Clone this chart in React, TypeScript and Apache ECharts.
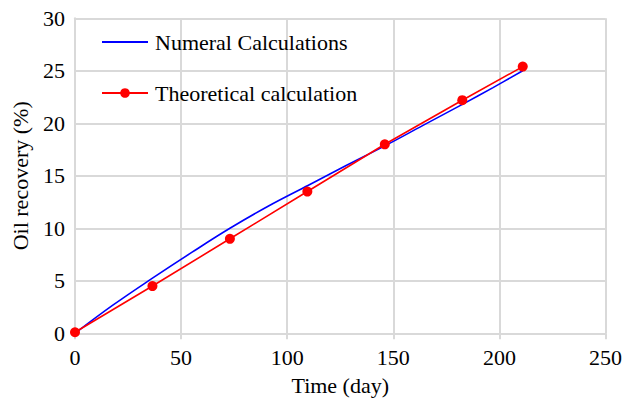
import React, { useEffect, useRef } from "react";
import * as echarts from "echarts";

const numX = [0, 18, 36.5, 55, 73, 91, 110, 128, 146, 164, 183, 197, 211];
const numY = [0, 2.7, 5.25, 7.7, 10.0, 12.1, 14.1, 16.0, 17.85, 19.8, 21.85, 23.4, 25.0];

const theoX = [0, 36.5, 73, 109.5, 146, 182.5, 211];
const theoY = [0.1, 4.5, 9.0, 13.5, 18.0, 22.2, 25.4];

const xTicks = [0, 250, 50];
const yTicks = [0, 30, 5];

const FONT = "Liberation Serif";
const FS = 22;

export default function App() {
  const ref = useRef<HTMLDivElement>(null);
  useEffect(() => {
    if (!ref.current) return;
    const chart = echarts.init(ref.current, null, { renderer: "svg" });
    const gridColor = "#d9d9d9";
    chart.setOption({
      animation: false,
      textStyle: { fontFamily: FONT, color: "#000" },
      grid: { left: 75, right: 17.5, top: 18.3, bottom: 69.7 },
      legend: {
        orient: "vertical",
        left: 96,
        top: 26,
        itemGap: 29,
        itemWidth: 46,
        itemHeight: 12,
        textStyle: { fontFamily: FONT, fontSize: FS, color: "#000", padding: [0, 0, 0, 2] },
        data: [
          { name: "Numeral Calculations", itemStyle: { opacity: 0 } },
          { name: "Theoretical calculation" },
        ],
      },
      xAxis: {
        type: "value",
        min: xTicks[0],
        max: xTicks[1],
        interval: xTicks[2],
        name: "Time (day)",
        nameLocation: "middle",
        nameGap: 41,
        nameTextStyle: { fontFamily: FONT, fontSize: FS, color: "#000" },
        axisLine: { show: true, lineStyle: { color: gridColor, width: 2 } },
        axisTick: { show: true, length: 6, lineStyle: { color: gridColor, width: 2 } },
        axisLabel: { fontFamily: FONT, fontSize: FS, color: "#000", margin: 13 },
        splitLine: { show: true, lineStyle: { color: gridColor, width: 2 } },
      },
      yAxis: {
        type: "value",
        min: yTicks[0],
        max: yTicks[1],
        interval: yTicks[2],
        name: "Oil recovery (%)",
        nameLocation: "middle",
        nameGap: 44,
        nameTextStyle: { fontFamily: FONT, fontSize: FS, color: "#000" },
        axisLine: { show: true, lineStyle: { color: gridColor, width: 2 } },
        axisTick: { show: false },
        axisLabel: { fontFamily: FONT, fontSize: FS, color: "#000", margin: 10 },
        splitLine: { show: true, lineStyle: { color: gridColor, width: 2 } },
      },
      series: [
        {
          name: "Numeral Calculations",
          type: "line",
          smooth: 0.4,
          showSymbol: false,
          symbol: "none",
          lineStyle: { color: "#0000ff", width: 1.6 },
          itemStyle: { color: "#0000ff" },
          data: numX.map((x, i) => [x, numY[i]]),
          z: 3,
        },
        {
          name: "Theoretical calculation",
          type: "line",
          symbol: "circle",
          symbolSize: 10,
          lineStyle: { color: "#ff0000", width: 1.6 },
          itemStyle: { color: "#ff0000" },
          data: theoX.map((x, i) => [x, theoY[i]]),
          z: 4,
        },
      ],
    });
    return () => chart.dispose();
  }, []);
  return <div ref={ref} style={{ width: 625, height: 403, position: "absolute", left: 0, top: 0 }} />;
}
